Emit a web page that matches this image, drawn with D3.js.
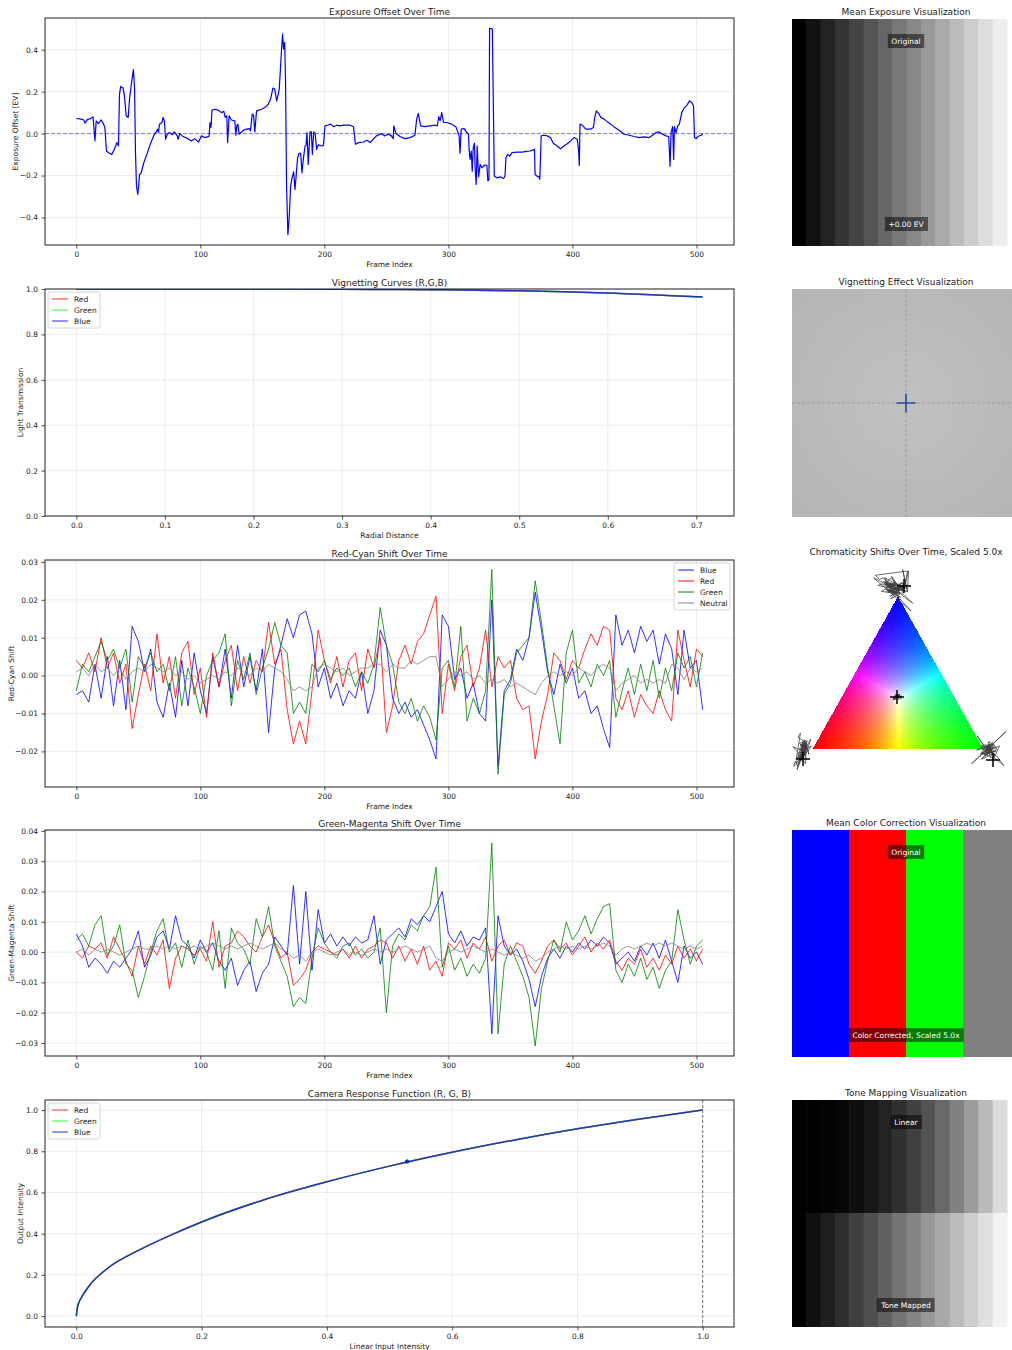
<!DOCTYPE html>
<html><head><meta charset="utf-8">
<script src="https://cdn.jsdelivr.net/npm/d3@7"></script>
<style>body{margin:0;background:#fff} svg{display:block;font-family:"DejaVu Sans",sans-serif}</style>
</head><body><svg id="c" width="1012" height="1350"></svg>
<script>
// ---------------- DATA ----------------
const expFrames = [0,4,6,7,9,11,13.5,15,16,17.8,20,22,23,24.3,26.7,28.6,30.7,32.6,34,34.8,35.8,37.7,38.8,40.2,41.8,42.9,44.2,46,47,47.7,48.5,49.6,51,52.3,54.4,56.9,59.6,62.3,64.4,65.5,66.3,67,69,70,71,72,73.3,75,77.5,79,81.4,82,83.5,85.4,87,90,92.7,95.4,98.6,100.8,103.5,107,107.8,108.6,109.4,111.6,114.3,117,118.9,120,121.3,122,123.2,125,127.8,128.6,129.4,130.2,131.3,133.2,135.3,137.2,139.4,140.4,141.8,142.9,143.9,145.3,149.3,152,153.4,154.7,156.6,158.5,160,161.5,162.8,163.6,165.5,166.3,167.1,168,168.7,169.5,170.6,171.7,172.8,174,175.2,176.3,177,178.4,179.5,180.9,181.9,183,184.4,185.2,186,187,188.4,189.5,190.3,191.4,192.5,193.8,195.1,197.8,199.2,200.5,203.2,205.1,207.3,210,212.7,215.4,218,220.8,223.5,225,227.5,231.5,234.2,236.9,239.3,242,246,248.7,251.4,254,255.5,256,257.6,260.9,264.9,269,273,274.4,275.7,277.6,281,285,289.2,291,292.2,293.3,294.6,296,298.7,302.7,306,307.3,308.6,309.4,310.3,312.7,314.8,316.2,316.7,317.5,318.4,319.2,320,321,321.6,322.4,323.2,324.3,325.6,327,328.3,329.7,331,331.8,332.7,333.2,335.4,337,339.1,341.8,344.5,345.6,346.4,347.8,349.4,351.3,355.3,359.4,362.9,366.1,369.4,369.9,371.5,372.9,373.7,374.8,376.9,379.6,382.3,384.5,387.7,390.4,393.1,395.8,398.5,401.2,403.9,405,405.5,406.1,408,410.7,414.7,416.9,418,419.3,421.5,422.8,425.5,428.2,430.9,433.6,436.3,439,441.7,445.7,449.8,453.8,457.9,461.9,464.6,467.3,470,472.7,475.4,477.6,478.7,479.5,480.8,481.6,482.2,483.5,484.9,486.2,488.1,490.3,492.4,494.3,496.2,497.6,498.4,499.8,501,503.8,505];
const expValues = [0.072,0.069,0.065,0.05,0.068,0.07,0.08,-0.035,0.06,0.048,0.065,0.045,0.03,-0.083,-0.094,-0.099,-0.075,-0.043,-0.059,0.188,0.225,0.217,0.18,0.085,0.077,0.164,0.228,0.305,0.212,-0.09,-0.25,-0.29,-0.195,-0.187,-0.139,-0.099,-0.051,-0.011,0.008,0.021,0.005,0.045,0.053,0.077,0.06,-0.027,-0.003,0.005,-0.005,0.008,-0.011,-0.027,0,-0.011,-0.016,-0.024,-0.035,-0.024,-0.04,-0.011,-0.019,-0.013,0.053,0.029,0.112,0.116,0.112,0.1,0.107,0.077,0.085,-0.043,0.085,0.065,0.061,-0.008,0.037,0.045,-0.003,0.008,0.018,0.021,0.024,0.013,0.093,0.088,0.008,0.108,0.116,0.124,0.132,0.14,0.164,0.217,0.212,0.156,0.188,0.212,0.403,0.475,0.403,0.435,0.244,-0.25,-0.482,-0.394,-0.25,-0.21,-0.182,-0.266,-0.218,-0.115,-0.094,-0.094,-0.187,-0.123,-0.059,-0.056,0.005,-0.147,0.008,0.008,-0.099,0.008,0.002,-0.075,-0.054,-0.059,-0.056,0.037,0.041,0.045,0.033,0.04,0.037,0.04,0.04,0.04,0.033,-0.051,-0.043,-0.04,-0.032,-0.043,-0.027,-0.011,0,-0.011,-0.003,-0.011,-0.024,0.037,0.002,-0.014,-0.024,-0.019,-0.008,0.069,0.096,0.037,0.033,0.037,0.04,0.037,0.081,0.061,0.1,0.053,0.053,0.045,0.033,0.013,-0.011,-0.094,0.021,0.024,0.005,-0.003,-0.075,-0.123,-0.083,-0.179,-0.067,-0.046,-0.171,-0.242,-0.059,-0.206,-0.147,-0.163,-0.155,-0.15,-0.151,-0.226,-0.218,0.502,0.499,-0.203,-0.211,-0.206,-0.214,-0.203,-0.115,-0.099,-0.107,-0.091,-0.088,-0.088,-0.085,-0.083,-0.075,-0.195,-0.203,-0.206,-0.218,-0.011,-0.008,-0.011,-0.019,-0.046,-0.059,-0.072,-0.059,-0.048,-0.035,-0.019,-0.027,-0.083,-0.152,0.045,0.04,0.021,0.021,0.029,0.077,0.108,0.093,0.077,0.069,0.056,0.045,0.032,0.021,0.01,-0.003,-0.008,-0.014,-0.019,-0.016,-0.019,-0.008,0.005,0.008,-0.003,-0.011,-0.014,-0.155,0.005,0.033,-0.123,0.033,0.005,0.037,0.045,0.1,0.124,0.136,0.156,0.148,0.132,-0.019,-0.024,-0.014,-0.008,-0.003];

const vigRadius = [0,0.1,0.2,0.3,0.35,0.4,0.45,0.5,0.55,0.6,0.65,0.7,0.707];
const vigValue  = [1.0,1.0,0.9998,0.999,0.998,0.997,0.995,0.992,0.988,0.982,0.975,0.966,0.965];

// chromatic shift series, sampled every 5 frames (0..505)
const rcBlue = [-0.005,-0.004,-0.007,0.003,-0.006,0.005,-0.008,0.004,-0.009,0.013,
0.009,0.001,0.007,-0.007,-0.011,-0.002,-0.011,0.004,-0.008,0.006,
-0.004,-0.01,0.005,-0.003,0.007,-0.006,0.008,-0.003,0.005,-0.004,
0.007,-0.015,0.002,0.008,0.015,0.01,0.016,0.017,0.011,-0.003,
0.002,-0.006,-0.002,-0.008,-0.004,-0.006,0.001,-0.01,-0.004,0.012,
0.008,-0.006,-0.01,-0.007,-0.011,-0.009,-0.013,-0.017,-0.022,0.016,
0.013,-0.001,0.002,-0.006,-0.002,-0.01,-0.012,0.02,-0.024,-0.004,
-0.001,0.007,0.004,0.01,0.022,0.012,0.001,-0.005,0.003,-0.002,
0.002,-0.006,-0.004,-0.01,-0.008,-0.014,-0.019,0.016,0.008,0.012,
0.006,0.013,0.009,0.012,0.003,0.011,0.007,-0.005,0.012,0.002,
0.004,-0.009];
const rcRed = [0.004,0.002,0.006,0.001,0.01,0.002,0.006,-0.002,0.003,-0.014,
-0.005,0.003,-0.004,0.011,-0.002,0.005,-0.006,0.006,0.009,-0.005,
0.002,-0.011,0.006,-0.003,0.004,0.008,-0.004,0.005,-0.002,0.004,
0.001,0.014,0.003,0.007,-0.009,-0.018,-0.012,-0.018,-0.004,0.012,
0.004,-0.002,0.005,-0.003,0.004,0.006,-0.004,0.007,0.002,0.01,
-0.015,-0.008,0.004,0.008,0.003,0.009,0.011,0.016,0.021,-0.01,
0.003,-0.004,0.005,0.008,-0.003,0.002,0.012,-0.003,0.005,0.002,
0.004,-0.006,-0.009,-0.008,-0.022,-0.012,-0.005,0.006,0.004,-0.001,
0.004,0.002,0.007,0.011,0.008,0.013,0.012,-0.006,-0.009,-0.004,
-0.011,-0.005,-0.008,-0.01,-0.004,-0.009,-0.012,0.012,0.004,-0.003,
0.007,0.005];
const rcGreen = [-0.004,0.003,0.001,0.005,0.009,0.004,0.007,0.002,0.007,-0.007,
0.005,0.002,0.006,0.001,0.003,-0.004,0.005,-0.008,0.002,-0.003,
-0.01,0.0,0.004,0.006,0.011,-0.008,0.004,-0.001,0.006,-0.005,
0.002,0.007,0.014,0.008,0.006,-0.01,-0.007,-0.01,0.003,0.001,
0.004,-0.001,0.002,0.0,0.002,-0.003,0.001,-0.002,0.003,0.018,
0.008,0.003,-0.007,-0.01,-0.006,-0.012,-0.008,-0.011,-0.017,0.002,
0.004,-0.003,0.013,-0.012,-0.006,-0.01,-0.004,0.028,-0.026,-0.005,
-0.002,0.006,0.008,0.01,0.025,0.014,0.002,-0.008,-0.018,0.006,
0.012,-0.002,0.001,-0.003,0.003,0.0,0.004,-0.011,-0.004,0.002,
-0.005,0.003,-0.004,0.004,-0.006,0.002,-0.004,0.006,0.002,0.005,
-0.003,0.006];
const rcNeutral = [0.001,0.002,0.0,0.003,0.001,0.002,0.0,0.002,-0.001,0.001,
0.002,0.001,0.003,0.002,0.001,0.002,0.0,0.001,-0.001,0.0,
-0.002,-0.001,0.0,-0.001,0.001,0.0,0.002,0.001,0.0,0.002,
0.001,0.003,0.002,0.001,-0.001,-0.004,-0.003,-0.004,-0.003,0.002,
0.003,0.002,0.001,0.002,0.0,0.001,0.002,0.002,0.003,0.003,
0.001,0.003,0.002,0.002,0.004,0.003,0.004,0.005,0.005,-0.003,
-0.001,0.001,0.0,0.001,-0.001,0.0,-0.002,-0.001,-0.002,-0.001,
-0.003,-0.002,-0.003,-0.004,-0.005,-0.002,0.0,0.001,0.0,0.001,
0.0,0.002,0.001,0.0,0.002,0.003,0.002,-0.004,-0.002,-0.001,
0.0,-0.002,-0.001,-0.002,-0.001,-0.002,0.003,0.002,-0.001,0.002,
0.001,0.002];
const gmBlue = [0.006,0.002,-0.005,-0.002,-0.004,-0.007,-0.003,-0.005,-0.002,0.001,
0.007,-0.005,-0.001,0.005,0.007,0.001,0.012,0.004,0.002,-0.002,
0.004,0.0,0.003,-0.003,-0.006,-0.002,-0.011,-0.006,-0.003,-0.013,
-0.007,-0.004,0.005,0.002,-0.001,0.022,-0.004,0.02,-0.006,0.014,
0.003,0.006,0.002,0.005,0.002,0.005,0.003,0.004,0.012,-0.004,
0.004,0.006,0.008,0.005,0.011,0.009,0.012,0.01,0.015,0.02,
0.006,0.003,0.007,0.002,0.005,0.004,0.008,-0.027,0.012,0.002,
-0.001,0.001,-0.003,-0.009,-0.018,-0.008,-0.002,0.001,-0.002,0.002,
0.0,0.003,0.001,0.004,0.002,0.005,0.003,-0.004,-0.002,0.0,
-0.003,0.002,-0.001,0.003,-0.002,0.004,-0.003,-0.01,0.002,-0.002,
0.0,-0.004];
const gmRed = [0.0,-0.002,0.002,0.001,0.003,-0.002,0.005,0.001,-0.003,-0.008,
0.002,-0.004,0.002,-0.001,0.004,-0.012,-0.002,0.002,0.001,-0.001,
0.001,-0.003,0.01,-0.005,0.002,0.003,0.007,0.005,0.002,0.0,
0.005,0.009,0.003,-0.002,0.0,-0.011,-0.009,-0.006,0.0,0.002,
0.001,0.0,-0.001,0.001,-0.002,0.002,-0.002,0.001,0.002,0.004,
0.003,-0.002,0.002,-0.003,0.001,-0.004,0.002,-0.006,-0.003,-0.008,
0.003,0.001,0.004,-0.002,0.003,0.001,0.005,-0.003,0.002,0.004,
-0.001,0.003,0.002,-0.004,-0.007,-0.003,0.002,0.004,0.001,0.003,
-0.001,0.002,0.005,0.0,0.003,0.001,0.004,-0.003,-0.006,-0.002,
-0.004,0.001,-0.005,-0.002,-0.006,-0.001,-0.004,0.002,-0.002,0.001,
-0.003,0.001];
const gmGreen = [0.004,0.006,0.002,0.009,0.012,-0.001,0.002,0.009,-0.004,-0.006,
-0.015,-0.008,0.0,0.007,0.011,0.0,0.003,-0.005,0.004,-0.004,
0.002,0.0,-0.006,0.007,-0.012,0.008,0.003,0.001,-0.004,0.011,
0.005,0.015,0.002,-0.003,-0.008,-0.018,-0.015,-0.017,-0.002,0.008,
0.003,0.0,-0.002,0.002,0.003,-0.001,0.001,-0.002,0.0,0.008,
-0.02,0.002,0.006,0.004,0.009,0.007,0.012,0.015,0.028,-0.005,
0.002,-0.006,-0.002,-0.008,-0.004,-0.007,-0.002,0.036,-0.027,-0.004,
0.002,-0.003,-0.008,-0.015,-0.031,-0.012,-0.003,0.004,0.0,0.01,
0.004,0.007,0.012,0.006,0.011,0.015,0.016,-0.006,-0.01,-0.004,
-0.008,-0.002,-0.009,-0.005,-0.012,-0.006,-0.003,0.014,0.004,-0.004,
0.002,0.004];
const gmNeutral = [0.0,0.001,-0.001,0.001,0.0,0.001,0.0,-0.001,0.0,0.001,
0.002,0.001,0.001,0.002,0.001,0.002,0.001,0.002,0.001,0.002,
0.001,0.002,0.003,0.002,0.001,0.002,0.001,0.002,0.003,0.002,
0.001,0.002,0.003,0.001,0.0,-0.002,-0.001,-0.003,0.0,0.001,
0.0,-0.001,0.0,0.001,-0.001,0.0,-0.001,0.0,0.001,0.0,
0.001,0.0,0.001,0.002,0.001,0.0,0.001,0.002,-0.002,-0.003,
0.0,0.001,0.0,0.001,0.002,0.001,0.0,0.001,0.0,-0.001,
0.0,-0.001,-0.002,-0.001,-0.003,-0.002,0.0,0.001,0.002,0.001,
0.002,0.001,0.002,0.001,0.002,0.003,0.002,-0.001,0.001,0.002,
0.001,0.002,0.003,0.002,0.003,0.002,0.003,0.002,0.001,0.002,
0.001,0.002];

const crfInput  = [0,0.002,0.005,0.01,0.02,0.05,0.1,0.15,0.2,0.3,0.4,0.5,0.6,0.7,0.8,0.9,1.0];
const crfOutput = [0,0.045,0.072,0.1,0.145,0.232,0.32,0.392,0.457,0.565,0.652,0.728,0.795,0.855,0.909,0.957,1.0];
const crfMarker = [0.528, 0.75];

const exposureStripes = [0,17,34,51,68,85,102,119,136,153,170,187,204,221,238];
const toneLinear = [0,1,3,7,14,23,34,48,64,83,105,129,156,186,219];
const toneMapped = [0,16,31,46,63,80,97,116,133,151,169,187,205,223,242];
const correctionColors = ["#0000ff","#ff0000","#00ff00","#808080"];

const xTicksFrame = [0,100,200,300,400,500];

// ---------------- DRAW ----------------
const svg = d3.select("#c");
const L = 45, R = 734;
const F = "DejaVu Sans";
let clipN = 0;

function panel(o){
  const g = svg.append("g");
  const x = d3.scaleLinear().domain(o.xd).range([L, R]);
  const y = d3.scaleLinear().domain(o.yd).range([o.b, o.t]);
  const grid = g.append("g").attr("stroke","#b0b0b0").attr("stroke-opacity",0.3).attr("stroke-width",0.8);
  grid.selectAll(".gx").data(o.xt).join("line").attr("x1",d=>x(d)).attr("x2",d=>x(d)).attr("y1",o.t).attr("y2",o.b);
  grid.selectAll(".gy").data(o.yt).join("line").attr("y1",d=>y(d)).attr("y2",d=>y(d)).attr("x1",L).attr("x2",R);
  const id = "clip"+(clipN++);
  svg.append("clipPath").attr("id",id).append("rect").attr("x",L).attr("y",o.t).attr("width",R-L).attr("height",o.b-o.t);
  const plot = g.append("g").attr("clip-path",`url(#${id})`);
  const ax = g.append("g").attr("transform",`translate(0,${o.b})`)
    .call(d3.axisBottom(x).tickValues(o.xt).tickFormat(o.xf).tickSize(3.5).tickPadding(3.5));
  const ay = g.append("g").attr("transform",`translate(${L},0)`)
    .call(d3.axisLeft(y).tickValues(o.yt).tickFormat(o.yf).tickSize(3.5).tickPadding(3.5));
  [ax,ay].forEach(a=>{a.attr("font-size",7.5).attr("font-family",F); a.select(".domain").remove(); a.selectAll("text").attr("fill","#222"); a.selectAll("line").attr("stroke","#222").attr("stroke-width",0.8);});
  const top = g.append("g");
  top.append("rect").attr("x",L).attr("y",o.t).attr("width",R-L).attr("height",o.b-o.t).attr("fill","none").attr("stroke","#222").attr("stroke-width",1);
  top.append("text").attr("x",(L+R)/2).attr("y",o.t-3).attr("text-anchor","middle").attr("font-size",9).attr("fill","#222").text(o.title);
  top.append("text").attr("x",(L+R)/2).attr("y",o.b+22).attr("text-anchor","middle").attr("font-size",7.5).attr("fill","#222").text(o.xl);
  top.append("text").attr("transform",`translate(${o.ylx},${(o.t+o.b)/2}) rotate(-90)`).attr("text-anchor","middle").attr("dominant-baseline","central").attr("font-size",7.5).attr("fill","#222").text(o.yl);
  return {x, y, plot, top};
}

function legend(x0, y0, w, items){
  const g = svg.append("g");
  const h = items.length*11+3;
  g.append("rect").attr("x",x0).attr("y",y0).attr("width",w).attr("height",h).attr("rx",2)
    .attr("fill","#fff").attr("fill-opacity",0.8).attr("stroke","#ccc").attr("stroke-width",0.8);
  items.forEach((it,i)=>{
    const yy = y0+7+i*11;
    g.append("line").attr("x1",x0+4).attr("x2",x0+20).attr("y1",yy).attr("y2",yy)
      .attr("stroke",it.c).attr("stroke-opacity",it.a).attr("stroke-width",1.2);
    g.append("text").attr("x",x0+26).attr("y",yy).attr("dominant-baseline","central")
      .attr("font-size",7.5).attr("fill","#222").text(it.l);
  });
}

function tag(cx, cy, txt){
  const g = svg.append("g");
  const r = g.append("rect");
  const t = g.append("text").attr("x",cx).attr("y",cy).attr("text-anchor","middle").attr("dominant-baseline","central")
    .attr("font-size",7.5).attr("fill","#fff").text(txt);
  const bb = t.node().getBBox();
  r.attr("x",bb.x-3.5).attr("y",cy-7).attr("width",bb.width+7).attr("height",14).attr("fill","#000").attr("fill-opacity",0.5);
}

function rightTitle(y, txt){
  svg.append("text").attr("x",906).attr("y",y).attr("text-anchor","middle").attr("font-size",9).attr("fill","#222").text(txt);
}

// ---- Row 1: exposure ----
{
  const p = panel({t:18,b:245,xd:[-25.25,530.25],yd:[-0.531,0.551],xt:xTicksFrame,yt:[-0.4,-0.2,0,0.2,0.4],
    xf:d3.format("d"),yf:d3.format(".1f"),title:"Exposure Offset Over Time",xl:"Frame Index",yl:"Exposure Offset [EV]",ylx:15});
  const pts = expFrames.map((f,i)=>[f,expValues[i]]);
  p.plot.append("path").datum(pts).attr("fill","none").attr("stroke","#0000ff").attr("stroke-width",1.2)
    .attr("stroke-linejoin","round").attr("d",d3.line().x(d=>p.x(d[0])).y(d=>p.y(d[1])));
  p.plot.append("line").attr("x1",L).attr("x2",R).attr("y1",p.y(0)).attr("y2",p.y(0))
    .attr("stroke","#0000ff").attr("stroke-opacity",0.5).attr("stroke-dasharray","4,2").attr("stroke-width",1);
}
// right 1
{
  rightTitle(15,"Mean Exposure Visualization");
  const bx = d3.scaleBand().domain(d3.range(exposureStripes.length)).range([792,1007]);
  svg.append("g").selectAll("rect").data(exposureStripes).join("rect")
    .attr("x",(d,i)=>bx(i)).attr("width",bx.bandwidth()+0.5).attr("y",19).attr("height",227)
    .attr("fill",d=>d3.rgb(d,d,d));
  tag(906,41,"Original");
  tag(906,224,"+0.00 EV");
}

// ---- Row 2: vignetting ----
{
  const p = panel({t:289,b:516,xd:[-0.0354,0.7425],yd:[0,1],xt:[0,0.1,0.2,0.3,0.4,0.5,0.6,0.7],yt:[0,0.2,0.4,0.6,0.8,1.0],
    xf:d3.format(".1f"),yf:d3.format(".1f"),title:"Vignetting Curves (R,G,B)",xl:"Radial Distance",yl:"Light Transmission",ylx:20.5});
  const pts = vigRadius.map((r,i)=>[r,vigValue[i]]);
  ["#ff0000","#00ff00","#0000ff"].forEach(c=>{
    p.plot.append("path").datum(pts).attr("fill","none").attr("stroke",c).attr("stroke-opacity",0.7).attr("stroke-width",1.5)
      .attr("d",d3.line().curve(d3.curveMonotoneX).x(d=>p.x(d[0])).y(d=>p.y(d[1])));
  });
  legend(48,292,52,[{l:"Red",c:"#ff0000",a:0.7},{l:"Green",c:"#00ff00",a:0.7},{l:"Blue",c:"#0000ff",a:0.7}]);
}
// right 2
{
  rightTitle(285,"Vignetting Effect Visualization");
  const defs = svg.append("defs");
  const rg = defs.append("radialGradient").attr("id","vig").attr("gradientUnits","userSpaceOnUse")
    .attr("cx",906).attr("cy",403).attr("r",160);
  rg.append("stop").attr("offset",0).attr("stop-color","#c0c0c0");
  rg.append("stop").attr("offset",1).attr("stop-color","#b5b5b5");
  svg.append("rect").attr("x",792).attr("y",289).attr("width",228).attr("height",228).attr("fill","url(#vig)");
  svg.append("line").attr("x1",906).attr("x2",906).attr("y1",289).attr("y2",517).attr("stroke","#888").attr("stroke-opacity",0.7).attr("stroke-dasharray","3,2").attr("stroke-width",0.8);
  svg.append("line").attr("x1",792).attr("x2",1012).attr("y1",403).attr("y2",403).attr("stroke","#888").attr("stroke-opacity",0.7).attr("stroke-dasharray","3,2").attr("stroke-width",0.8);
  svg.append("path").attr("d","M896.5,403H915.5M906,393.5V412.5").attr("stroke","#2a4a9e").attr("stroke-width",1.6).attr("fill","none");
}

// ---- Rows 3 & 4: colour shifts ----
const frames5 = d3.range(0,506,5);
function shiftPanel(t,b,yd,yt,title,yl,series){
  const p = panel({t,b,xd:[-25.25,530.25],yd,xt:xTicksFrame,yt,xf:d3.format("d"),yf:d3.format(".2f"),
    title,xl:"Frame Index",yl,ylx:11});
  series.forEach(s=>{
    p.plot.append("path").datum(s.v).attr("fill","none").attr("stroke",s.c).attr("stroke-opacity",0.8).attr("stroke-width",1)
      .attr("stroke-linejoin","round").attr("d",d3.line().x((d,i)=>p.x(frames5[i])).y(d=>p.y(d)));
  });
  return p;
}
shiftPanel(560,787,[-0.0294,0.0305],[-0.02,-0.01,0,0.01,0.02,0.03],"Red-Cyan Shift Over Time","Red-Cyan Shift",
  [{v:rcBlue,c:"#0000ff"},{v:rcRed,c:"#ff0000"},{v:rcGreen,c:"#008000"},{v:rcNeutral,c:"#808080"}]);
legend(674,563,56,[{l:"Blue",c:"#0000ff",a:0.8},{l:"Red",c:"#ff0000",a:0.8},{l:"Green",c:"#008000",a:0.8},{l:"Neutral",c:"#808080",a:0.8}]);
shiftPanel(830,1056,[-0.0343,0.0403],[-0.03,-0.02,-0.01,0,0.01,0.02,0.03,0.04],"Green-Magenta Shift Over Time","Green-Magenta Shift",
  [{v:gmBlue,c:"#0000ff"},{v:gmRed,c:"#ff0000"},{v:gmGreen,c:"#008000"},{v:gmNeutral,c:"#808080"}]);

// right 3: chromaticity triangle
{
  rightTitle(555,"Chromaticity Shifts Over Time, Scaled 5.0x");
  const V = [[813,749],[983,749],[898,597]]; // R, G, B
  const x0=813,y0=597,w=171,h=153;
  const cv = document.createElement("canvas"); cv.width=w; cv.height=h;
  const ctx = cv.getContext("2d"); const im = ctx.createImageData(w,h);
  const [A,B,C] = V;
  const det = (B[1]-C[1])*(A[0]-C[0])+(C[0]-B[0])*(A[1]-C[1]);
  for(let py=0;py<h;py++) for(let px=0;px<w;px++){
    const X=x0+px+0.5, Y=y0+py+0.5;
    const l1=((B[1]-C[1])*(X-C[0])+(C[0]-B[0])*(Y-C[1]))/det;
    const l2=((C[1]-A[1])*(X-C[0])+(A[0]-C[0])*(Y-C[1]))/det;
    const l3=1-l1-l2;
    if(l1<-0.002||l2<-0.002||l3<-0.002) continue;
    const m=Math.max(l1,l2,l3);
    const k=(py*w+px)*4;
    im.data[k]=255*Math.max(0,l1)/m; im.data[k+1]=255*Math.max(0,l2)/m; im.data[k+2]=255*Math.max(0,l3)/m; im.data[k+3]=255;
  }
  ctx.putImageData(im,0,0);
  svg.append("image").attr("x",x0).attr("y",y0).attr("width",w).attr("height",h).attr("href",cv.toDataURL());
  const K = 850;
  const traj = [
    {rc:rcBlue, gm:gmBlue, c:[894,588], m:(a,b)=>[a,-b], cross:[904,586]},
    {rc:rcRed, gm:gmRed, c:[803,751], m:(a,b)=>[b,-a], cross:[803,759]},
    {rc:rcGreen, gm:gmGreen, c:[988,750], m:(a,b)=>[0.75*a,-0.6*b], cross:[993,760]},
    {rc:rcNeutral, gm:gmNeutral, c:[897,697], m:(a,b)=>[a,-b], cross:[897,697]}
  ];
  traj.forEach(s=>{
    const pts = s.rc.map((v,i)=>{const d=s.m(v,s.gm[i]); return [s.c[0]+K*d[0], s.c[1]+K*d[1]];});
    svg.append("path").attr("d",d3.line()(pts)).attr("fill","none").attr("stroke","#404040").attr("stroke-opacity",0.85).attr("stroke-width",0.9);
  });
  traj.forEach(s=>{
    const [cx,cy]=s.cross;
    svg.append("path").attr("d",`M${cx-7},${cy}H${cx+7}M${cx},${cy-7}V${cy+7}`).attr("stroke","#000").attr("stroke-width",1.5);
  });
}
// right 4: colour correction
{
  rightTitle(826,"Mean Color Correction Visualization");
  const bx = d3.scaleBand().domain(d3.range(correctionColors.length)).range([792,1020]);
  svg.append("g").selectAll("rect").data(correctionColors).join("rect")
    .attr("x",(d,i)=>bx(i)).attr("width",bx.bandwidth()+0.5).attr("y",830).attr("height",227).attr("fill",d=>d);
  tag(906,852,"Original");
  tag(906,1035,"Color Corrected, Scaled 5.0x");
}

// ---- Row 5: camera response ----
{
  const p = panel({t:1100,b:1327,xd:[-0.05,1.05],yd:[-0.053,1.049],xt:[0,0.2,0.4,0.6,0.8,1.0],yt:[0,0.2,0.4,0.6,0.8,1.0],
    xf:d3.format(".1f"),yf:d3.format(".1f"),title:"Camera Response Function (R, G, B)",xl:"Linear Input Intensity",yl:"Output Intensity",ylx:20.5});
  const pts = crfInput.map((v,i)=>[v,crfOutput[i]]);
  ["#ff0000","#00ff00","#0000ff"].forEach(c=>{
    p.plot.append("path").datum(pts).attr("fill","none").attr("stroke",c).attr("stroke-opacity",0.7).attr("stroke-width",1.5)
      .attr("d",d3.line().curve(d3.curveMonotoneX).x(d=>p.x(d[0])).y(d=>p.y(d[1])));
    p.plot.append("circle").attr("cx",p.x(crfMarker[0])).attr("cy",p.y(crfMarker[1])).attr("r",2).attr("fill",c).attr("fill-opacity",0.7);
  });
  p.plot.append("line").attr("x1",p.x(1)).attr("x2",p.x(1)).attr("y1",1100).attr("y2",1327)
    .attr("stroke","#555").attr("stroke-opacity",0.8).attr("stroke-dasharray","3,2").attr("stroke-width",1);
  legend(48,1103,52,[{l:"Red",c:"#ff0000",a:0.7},{l:"Green",c:"#00ff00",a:0.7},{l:"Blue",c:"#0000ff",a:0.7}]);
}
// right 5: tone mapping
{
  rightTitle(1096,"Tone Mapping Visualization");
  const bx = d3.scaleBand().domain(d3.range(toneLinear.length)).range([792,1007]);
  svg.append("g").selectAll("rect").data(toneLinear).join("rect")
    .attr("x",(d,i)=>bx(i)).attr("width",bx.bandwidth()+0.5).attr("y",1100).attr("height",114).attr("fill",d=>d3.rgb(d,d,d));
  svg.append("g").selectAll("rect").data(toneMapped).join("rect")
    .attr("x",(d,i)=>bx(i)).attr("width",bx.bandwidth()+0.5).attr("y",1213).attr("height",114).attr("fill",d=>d3.rgb(d,d,d));
  tag(906,1122,"Linear");
  tag(906,1305,"Tone Mapped");
}
</script></body></html>
